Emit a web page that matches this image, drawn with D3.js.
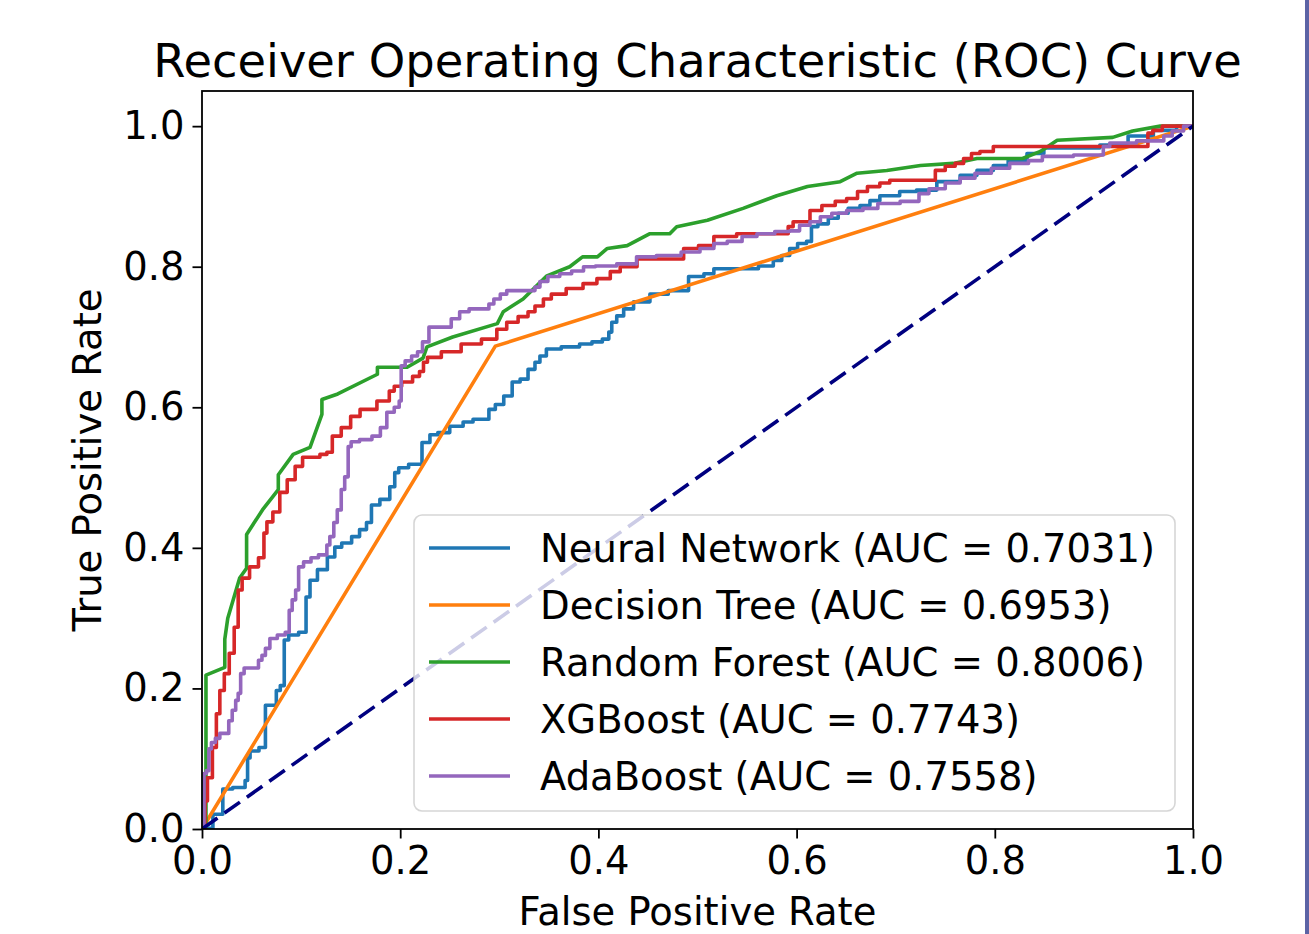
<!DOCTYPE html>
<html>
<head>
<meta charset="utf-8">
<script src="https://cdn.jsdelivr.net/npm/d3@7"></script>
<style>
  html, body { margin: 0; padding: 0; background: #ffffff; }
  svg { display: block; }
  text { font-family: "DejaVu Sans", sans-serif; fill: #000; }
</style>
</head>
<body>
<svg id="chart" width="1309" height="934"></svg>
<script>
// ---------------- DATA ----------------
const title = "Receiver Operating Characteristic (ROC) Curve";
const xLabel = "False Positive Rate";
const yLabel = "True Positive Rate";
const xTicks = [0.0, 0.2, 0.4, 0.6, 0.8, 1.0];
const yTicks = [0.0, 0.2, 0.4, 0.6, 0.8, 1.0];

const modelNames = ["Neural Network", "Decision Tree", "Random Forest", "XGBoost", "AdaBoost"];
const modelAUC = ["0.7031", "0.6953", "0.8006", "0.7743", "0.7558"];
const modelColors = ["#1f77b4", "#ff7f0e", "#2ca02c", "#d62728", "#9467bd"];

const nnFpr = [0,0.001,0.021,0.021,0.041,0.046,0.046,0.051,0.064,0.064,0.074,0.076,0.082,0.084,0.091,0.104,0.106,0.112,0.121,0.132,0.136,0.146,0.156,0.162,0.170,0.172,0.187,0.192,0.197,0.200,0.217,0.227,0.233,0.243,0.257,0.270,0.277,0.288,0.291,0.301,0.308,0.318,0.324,0.334,0.338,0.344,0.351,0.374,0.388,0.399,0.409,0.412,0.415,0.422,0.429,0.442,0.462,0.479,0.503,0.510,0.523,0.550,0.573,0.580,0.590,0.596,0.606,0.614,0.616,0.627,0.637,0.647,0.657,0.671,0.677,0.691,0.717,0.725,0.758,0.772,0.792,0.805,0.822,0.843,0.856,0.893,0.919,0.950,0.970,0.997,1];
const nnTpr = [0,0.001,0.021,0.057,0.059,0.069,0.101,0.111,0.116,0.176,0.176,0.197,0.204,0.269,0.276,0.280,0.330,0.354,0.369,0.387,0.401,0.407,0.416,0.426,0.436,0.461,0.469,0.487,0.507,0.514,0.519,0.550,0.561,0.564,0.573,0.579,0.583,0.583,0.597,0.604,0.616,0.636,0.640,0.654,0.664,0.673,0.683,0.686,0.690,0.693,0.697,0.707,0.721,0.730,0.740,0.750,0.761,0.766,0.786,0.790,0.797,0.797,0.801,0.809,0.816,0.826,0.833,0.836,0.857,0.861,0.869,0.876,0.883,0.887,0.894,0.901,0.907,0.909,0.921,0.930,0.937,0.944,0.951,0.961,0.969,0.969,0.973,0.986,0.994,1.0,1];

const dtFpr = [0, 0.296, 1];
const dtTpr = [0, 0.687, 1];

const rfFpr = [0,0.004,0.004,0.023,0.023,0.026,0.038,0.045,0.045,0.061,0.077,0.077,0.092,0.109,0.121,0.121,0.137,0.177,0.177,0.207,0.223,0.227,0.253,0.298,0.304,0.324,0.348,0.371,0.384,0.399,0.409,0.429,0.452,0.472,0.479,0.510,0.546,0.580,0.611,0.644,0.661,0.691,0.725,0.758,0.782,0.828,0.846,0.863,0.919,0.939,0.967,1];
const rfTpr = [0,0,0.219,0.230,0.270,0.300,0.357,0.371,0.419,0.454,0.483,0.504,0.533,0.543,0.590,0.611,0.619,0.647,0.657,0.657,0.670,0.686,0.700,0.719,0.736,0.754,0.787,0.800,0.814,0.814,0.826,0.830,0.847,0.847,0.857,0.866,0.883,0.901,0.914,0.921,0.933,0.937,0.944,0.947,0.954,0.954,0.964,0.980,0.984,0.993,1.0,1];

const xgbFpr = [0,0.003,0.003,0.008,0.013,0.016,0.020,0.025,0.030,0.035,0.038,0.043,0.053,0.061,0.064,0.067,0.076,0.081,0.091,0.097,0.106,0.117,0.121,0.131,0.132,0.149,0.151,0.168,0.185,0.193,0.195,0.208,0.217,0.222,0.225,0.230,0.253,0.270,0.294,0.301,0.314,0.324,0.334,0.338,0.351,0.354,0.381,0.388,0.409,0.415,0.429,0.449,0.480,0.492,0.510,0.523,0.556,0.590,0.593,0.600,0.610,0.617,0.634,0.644,0.657,0.666,0.677,0.691,0.697,0.738,0.742,0.758,0.762,0.775,0.778,0.792,0.805,0.954,0.955,0.964,0.974,1];
const xgbTpr = [0,0,0.040,0.073,0.116,0.164,0.197,0.221,0.250,0.287,0.340,0.357,0.373,0.386,0.421,0.437,0.451,0.479,0.497,0.516,0.529,0.529,0.533,0.536,0.559,0.571,0.587,0.597,0.609,0.623,0.630,0.636,0.644,0.651,0.664,0.671,0.679,0.690,0.697,0.711,0.721,0.729,0.736,0.744,0.754,0.761,0.769,0.776,0.783,0.793,0.800,0.811,0.811,0.826,0.830,0.843,0.847,0.847,0.857,0.864,0.864,0.880,0.887,0.893,0.897,0.907,0.914,0.919,0.923,0.923,0.937,0.943,0.947,0.954,0.961,0.964,0.971,0.971,0.990,0.994,1.0,1];

const adaFpr = [0,0.001,0.003,0.006,0.008,0.011,0.016,0.020,0.026,0.028,0.033,0.035,0.038,0.040,0.045,0.055,0.059,0.062,0.066,0.071,0.081,0.087,0.089,0.093,0.096,0.099,0.106,0.114,0.121,0.126,0.126,0.132,0.134,0.139,0.142,0.146,0.149,0.152,0.166,0.177,0.183,0.190,0.198,0.200,0.202,0.208,0.215,0.220,0.225,0.233,0.250,0.253,0.267,0.272,0.288,0.291,0.298,0.304,0.311,0.334,0.338,0.344,0.354,0.368,0.378,0.392,0.402,0.435,0.442,0.475,0.492,0.513,0.520,0.540,0.550,0.570,0.586,0.600,0.606,0.621,0.627,0.644,0.657,0.677,0.687,0.722,0.725,0.742,0.758,0.772,0.788,0.805,0.825,0.843,0.853,0.906,0.913,0.919,0.967,0.974,0.984,0.997,1];
const adaTpr = [0,0.001,0.079,0.083,0.114,0.123,0.129,0.136,0.136,0.154,0.169,0.183,0.193,0.221,0.229,0.229,0.240,0.247,0.257,0.271,0.276,0.280,0.311,0.326,0.340,0.373,0.380,0.386,0.390,0.390,0.404,0.416,0.436,0.454,0.483,0.501,0.544,0.551,0.554,0.559,0.571,0.593,0.600,0.609,0.659,0.666,0.673,0.679,0.693,0.714,0.714,0.726,0.736,0.740,0.740,0.747,0.754,0.761,0.766,0.766,0.771,0.779,0.786,0.790,0.794,0.800,0.801,0.804,0.814,0.816,0.821,0.826,0.833,0.836,0.843,0.847,0.850,0.851,0.859,0.864,0.871,0.876,0.880,0.883,0.890,0.893,0.904,0.911,0.919,0.926,0.933,0.940,0.947,0.951,0.957,0.959,0.971,0.976,0.979,0.986,0.993,1.0,1];

const diagFpr = [0, 1];
const diagTpr = [0, 1];

// ---------------- LAYOUT ----------------
const svg = d3.select("#chart");
const L = 202, R = 1193, T = 91, B = 829;
const baseFont = 38.5;

const x = d3.scaleLinear().domain([0, 1]).range([L, R]);
const y = d3.scaleLinear().domain([0, 1.05]).range([B, T]);

svg.append("rect").attr("x", 0).attr("y", 0).attr("width", 1309).attr("height", 934).attr("fill", "#ffffff");
// right edge stripe
svg.append("rect").attr("x", 1305).attr("y", 0).attr("width", 4).attr("height", 934).attr("fill", "#5c63a5");

svg.append("defs").append("clipPath").attr("id", "plotclip")
  .append("rect").attr("x", L).attr("y", T).attr("width", R - L).attr("height", B - T);

const series = [
  { fpr: nnFpr, tpr: nnTpr, curve: d3.curveStep },
  { fpr: dtFpr, tpr: dtTpr, curve: d3.curveLinear },
  { fpr: rfFpr, tpr: rfTpr, curve: d3.curveLinear },
  { fpr: xgbFpr, tpr: xgbTpr, curve: d3.curveStep },
  { fpr: adaFpr, tpr: adaTpr, curve: d3.curveStep }
];

const plot = svg.append("g").attr("clip-path", "url(#plotclip)");

series.forEach((s, i) => {
  const pts = s.fpr.map((f, j) => [f, s.tpr[j]]);
  const line = d3.line().x(d => x(d[0])).y(d => y(d[1])).curve(s.curve);
  plot.append("path")
    .attr("d", line(pts))
    .attr("fill", "none")
    .attr("stroke", modelColors[i])
    .attr("stroke-width", 3.6)
    .attr("stroke-linejoin", "round")
    .attr("stroke-linecap", "square");
});

const diagLine = d3.line().x(d => x(d[0])).y(d => y(d[1]));
plot.append("path")
  .attr("d", diagLine(diagFpr.map((f, j) => [f, diagTpr[j]])))
  .attr("fill", "none")
  .attr("stroke", "#000080")
  .attr("stroke-width", 3.6)
  .attr("stroke-dasharray", "19,8.5");

// axes
const xAxis = d3.axisBottom(x).tickValues(xTicks).tickFormat(d3.format(".1f")).tickSize(9.5).tickPadding(8);
const yAxis = d3.axisLeft(y).tickValues(yTicks).tickFormat(d3.format(".1f")).tickSize(9.5).tickPadding(8);

const gx = svg.append("g").attr("transform", `translate(0,${B})`).call(xAxis);
const gy = svg.append("g").attr("transform", `translate(${L},0)`).call(yAxis);
[gx, gy].forEach(g => {
  g.select(".domain").remove();
  g.selectAll(".tick line").attr("stroke", "#000").attr("stroke-width", 1.8);
  g.selectAll(".tick text").attr("font-size", baseFont).attr("font-family", "DejaVu Sans").attr("fill", "#000");
});

// spines
svg.append("rect").attr("x", L).attr("y", T).attr("width", R - L).attr("height", B - T)
  .attr("fill", "none").attr("stroke", "#000").attr("stroke-width", 1.8);

// title & labels
svg.append("text").attr("x", (L + R) / 2).attr("y", 77).attr("text-anchor", "middle")
  .attr("font-size", 46.4).text(title);
svg.append("text").attr("x", (L + R) / 2).attr("y", 925).attr("text-anchor", "middle")
  .attr("font-size", baseFont).text(xLabel);
svg.append("text").attr("transform", `translate(101,${(T + B) / 2}) rotate(-90)`).attr("text-anchor", "middle")
  .attr("font-size", baseFont).text(yLabel);

// legend
const lg = svg.append("g");
lg.append("rect").attr("x", 414).attr("y", 515).attr("width", 761).attr("height", 296).attr("rx", 8)
  .attr("fill", "#ffffff").attr("fill-opacity", 0.8)
  .attr("stroke", "#cccccc").attr("stroke-opacity", 0.8).attr("stroke-width", 1.6);
modelNames.forEach((name, i) => {
  const yy = 548 + i * 57;
  lg.append("line").attr("x1", 429).attr("x2", 510).attr("y1", yy).attr("y2", yy)
    .attr("stroke", modelColors[i]).attr("stroke-width", 3.6);
  lg.append("text").attr("x", 540).attr("y", yy + 14).attr("font-size", baseFont)
    .text(`${name} (AUC = ${modelAUC[i]})`);
});
</script>
</body>
</html>
